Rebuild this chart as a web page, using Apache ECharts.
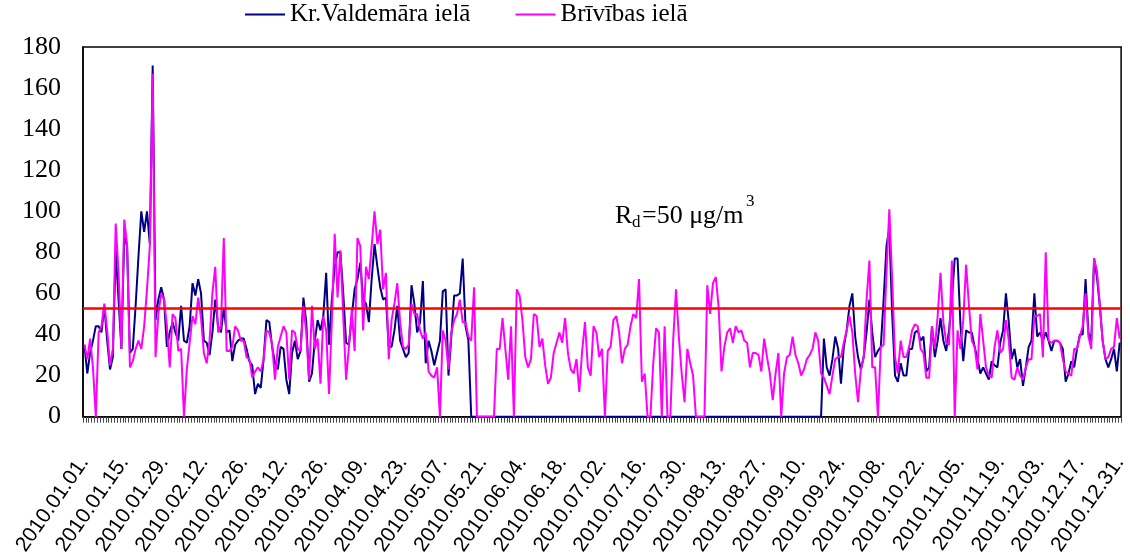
<!DOCTYPE html>
<html><head><meta charset="utf-8">
<script src="https://cdn.jsdelivr.net/npm/echarts@6/dist/echarts.min.js"></script>
<style>html,body{margin:0;padding:0;background:#fff}#c{width:1130px;height:558px}</style>
</head><body><div id="c"></div>
<script>
const seriesNames = ['Kr.Valdemāra ielā', 'Brīvības ielā'];

const valdemara = [
35,21,31,37,44,44,41,54,37,23, 29,81,57,33,88,83,31,33,54,78,
100,90,100,84,171,47,57,63,57,34, 41,46,41,37,54,37,36,44,65,59,
67,60,37,36,30,41,57,44,41,53, 41,42,27,35,37,38,38,33,27,25,
11,16,14,28,47,46,34,26,23,34, 33,18,11,31,37,28,32,58,46,17,
21,37,47,42,49,70,35,57,73,80, 80,60,36,35,49,62,67,75,57,55,
46,67,84,73,63,57,58,34,34,42, 54,37,33,29,31,64,55,41,46,66,
26,37,32,25,31,37,61,62,20,39, 59,59,60,77,44,37,0,0,0,0,
0,0,0,0,0,0,0,0,0,0, 0,0,0,0,0,0,0,0,0,0,
0,0,0,0,0,0,0,0,0,0, 0,0,0,0,0,0,0,0,0,0,
0,0,0,0,0,0,0,0,0,0, 0,0,0,0,0,0,0,0,0,0,
0,0,0,0,0,0,0,0,0,0, 0,0,0,0,0,0,0,0,0,0,
0,0,0,0,0,0,0,0,0,0, 0,0,0,0,0,0,0,0,0,0,
0,0,0,0,0,0,0,0,0,0, 0,0,0,0,0,0,0,0,0,0,
38,24,20,28,39,33,16,34,42,54, 60,39,29,23,29,41,57,41,29,32,
34,57,83,92,50,20,17,26,20,20, 33,33,41,42,37,39,22,24,44,29,
37,48,37,32,42,57,77,77,45,27, 42,41,41,34,28,21,24,21,18,27,
25,24,36,42,60,46,28,33,24,28, 15,24,34,37,60,39,41,37,41,37,
32,37,37,36,33,17,21,27,24,33, 40,40,67,41,37,77,68,54,37,28,
24,28,33,22,36
];

const brivibas = [
35,28,38,24,0,41,44,55,42,25, 33,94,70,33,96,84,24,27,33,37,
33,44,62,83,167,29,50,60,57,44, 24,50,48,32,33,0,23,36,49,45,
58,48,31,26,37,60,73,41,44,87, 32,32,34,44,42,37,37,29,28,19,
22,24,22,28,42,41,35,18,34,39, 44,41,18,42,41,33,32,54,41,18,
54,33,38,16,49,42,11,47,89,58, 81,49,18,34,52,32,87,83,42,73,
67,83,100,84,91,62,70,28,47,55, 65,46,34,33,35,55,50,50,42,38,
41,22,20,19,24,0,42,37,23,41, 47,50,57,46,46,39,37,63,0,0,
0,0,0,0,0,33,33,48,33,18, 44,0,62,59,47,29,24,28,50,49,
34,38,25,16,19,31,36,41,36,48, 31,23,21,28,12,32,46,24,20,44,
41,29,33,0,32,34,47,49,41,26, 33,35,44,50,48,67,17,21,0,0,
26,43,41,0,44,0,0,37,62,39, 21,7,33,26,20,0,0,0,0,64,
50,65,68,53,22,34,41,43,36,44, 41,42,37,36,24,31,31,30,22,38,
29,21,8,21,31,0,21,29,30,39, 30,26,20,23,28,30,33,41,37,21,
19,15,11,20,28,29,29,36,42,49, 41,21,7,23,29,57,76,24,24,0,
34,35,70,101,67,29,21,37,29,29, 34,42,45,44,33,31,19,19,44,33,
49,70,46,36,35,76,0,42,33,47, 74,54,37,34,23,50,37,24,20,19,
34,42,31,33,47,37,19,18,24,20, 18,24,28,28,49,49,50,29,80,37,
36,37,37,36,28,22,21,20,33,33, 39,44,60,39,33,77,71,55,37,28,
29,33,34,48,38
];

const limitValue = 53;
const yMin = 0, yMax = 180, yStep = 20;
const labelEvery = 14;

// daily category labels for 2010
const categories = [];
const startMs = Date.UTC(2010, 0, 1);
for (let i = 0; i < 365; i++) {
  const d = new Date(startMs + i * 86400000);
  categories.push(d.getUTCFullYear() + '.' + String(d.getUTCMonth() + 1).padStart(2, '0') + '.' + String(d.getUTCDate()).padStart(2, '0') + '.');
}

const chart = echarts.init(document.getElementById('c'), null, {renderer: 'canvas'});
const serif = '"Liberation Serif", "Times New Roman", serif';
const sans = '"Liberation Sans", Arial, sans-serif';

chart.setOption({
  animation: false,
  backgroundColor: '#fff',
  grid: {left: 83, right: 2, top: 47, bottom: 141, show: true, borderColor: '#000', borderWidth: 1.5, backgroundColor: 'transparent'},
  legend: {
    left: 245, top: 2, padding: [0, 0, 0, 0], icon: 'rect', itemWidth: 40, itemHeight: 2, itemGap: 45,
    textStyle: {fontFamily: serif, fontSize: 25, color: '#000'},
    data: seriesNames
  },
  xAxis: {
    type: 'category', data: categories, boundaryGap: true,
    axisLine: {show: true, lineStyle: {color: '#000', width: 1.5}},
    axisTick: {show: true, interval: 0, length: 6, lineStyle: {color: '#444', width: 1}},
    axisLabel: {interval: labelEvery - 1, rotate: 55, margin: 42, fontFamily: sans, fontSize: 21, color: '#000'},
    splitLine: {show: false}
  },
  yAxis: {
    type: 'value', min: yMin, max: yMax, interval: yStep,
    axisLine: {show: true, lineStyle: {color: '#000', width: 1.5}},
    axisTick: {show: false},
    axisLabel: {fontFamily: serif, fontSize: 26, color: '#000', margin: 22},
    splitLine: {show: false}
  },
  series: [
    {name: seriesNames[0], type: 'line', data: valdemara, symbol: 'none', showSymbol: false,
     lineStyle: {color: '#000080', width: 2}, itemStyle: {color: '#000080'}},
    {name: seriesNames[1], type: 'line', data: brivibas, symbol: 'none', showSymbol: false,
     lineStyle: {color: '#FF00FF', width: 2}, itemStyle: {color: '#FF00FF'},
     markLine: {silent: true, symbol: ['none', 'none'], label: {show: false},
       lineStyle: {color: '#FF0000', width: 2.5, type: 'solid'},
       data: [{yAxis: limitValue}]}}
  ],
  graphic: [
    {type: 'text', x: 615, y: 229, style: {text: 'R', fontFamily: serif, fontSize: 26, fill: '#000', verticalAlign: 'bottom'}},
    {type: 'text', x: 632, y: 231, style: {text: 'd', fontFamily: serif, fontSize: 17, fill: '#000', verticalAlign: 'bottom'}},
    {type: 'text', x: 642, y: 229, style: {text: '=50 μg/m', fontFamily: serif, fontSize: 26, fill: '#000', verticalAlign: 'bottom'}},
    {type: 'text', x: 746, y: 193, style: {text: '3', fontFamily: serif, fontSize: 17, fill: '#000', verticalAlign: 'top'}}
  ]
});
</script>
</body></html>
